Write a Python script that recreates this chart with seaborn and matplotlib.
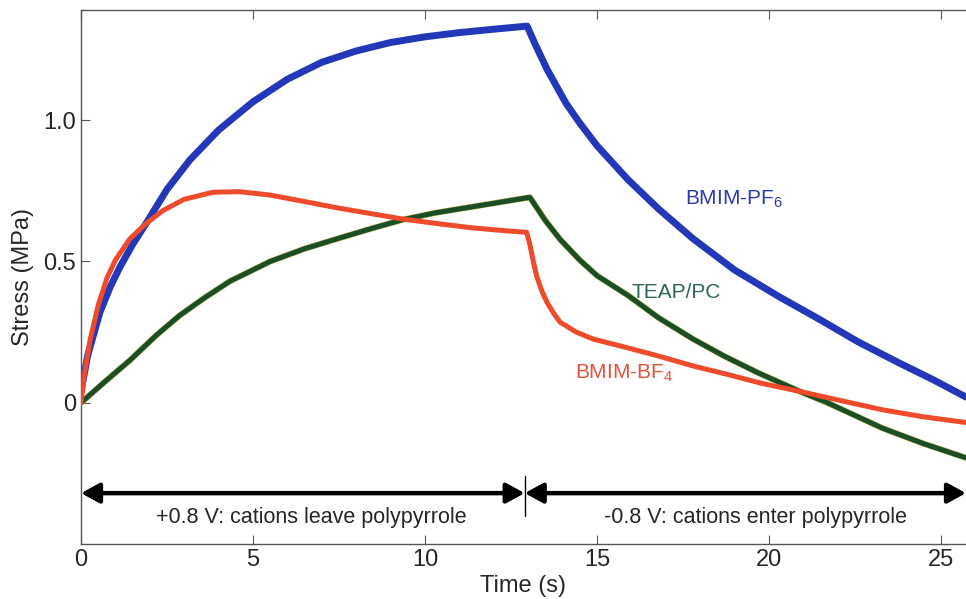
import matplotlib
matplotlib.use("Agg")
import matplotlib.pyplot as plt
import matplotlib.patheffects as pe
import seaborn as sns
import pandas as pd

# ---- data ----
pf6_t = [0, 0.2, 0.55, 0.85, 1.13, 1.5, 1.92, 2.5, 3.17, 4.0, 5.0, 6.0, 7.0, 8.0, 9.0, 10.0,
         11.0, 12.0, 12.97, 13.2, 13.55, 14.1, 14.5, 15.0, 15.9, 16.8, 17.8, 19.0, 20.3,
         21.4, 22.6, 23.8, 24.8, 25.73]
pf6_y = [0.04, 0.17, 0.32, 0.41, 0.48, 0.56, 0.64, 0.755, 0.86, 0.965, 1.065, 1.145, 1.205,
         1.245, 1.275, 1.295, 1.31, 1.322, 1.333, 1.27, 1.18, 1.06, 0.99, 0.91, 0.79, 0.685,
         0.58, 0.47, 0.375, 0.3, 0.215, 0.14, 0.08, 0.02]

bf4_t = [0, 0.1, 0.26, 0.5, 0.75, 1.0, 1.42, 1.9, 2.38, 3.0, 3.84, 4.6, 5.5, 6.5, 7.44, 8.4,
         9.36, 10.3, 11.3, 12.2, 12.96, 13.05, 13.15, 13.25, 13.4, 13.55, 13.75, 13.93, 14.4,
         14.9, 15.87, 16.8, 17.8, 18.8, 19.74, 20.9, 22.0, 23.3, 24.5, 25.73]
bf4_y = [0, 0.1, 0.22, 0.345, 0.44, 0.505, 0.58, 0.635, 0.68, 0.72, 0.745, 0.747, 0.735,
         0.712, 0.69, 0.67, 0.65, 0.635, 0.62, 0.61, 0.603, 0.56, 0.5, 0.447, 0.395, 0.355,
         0.315, 0.285, 0.25, 0.225, 0.195, 0.165, 0.13, 0.1, 0.07, 0.04, 0.01, -0.025,
         -0.05, -0.07]

teap_t = [0, 0.7, 1.42, 2.2, 2.88, 3.6, 4.33, 5.5, 6.5, 7.44, 8.4, 9.36, 10.3, 11.3, 12.2,
          13.05, 13.5, 13.93, 14.5, 15.0, 15.9, 16.8, 17.8, 18.7, 19.7, 20.9, 21.7, 22.5,
          23.3, 24.5, 25.73]
teap_y = [0, 0.075, 0.15, 0.24, 0.31, 0.372, 0.43, 0.5, 0.545, 0.58, 0.615, 0.648, 0.672,
          0.692, 0.71, 0.727, 0.645, 0.578, 0.505, 0.45, 0.38, 0.3, 0.225, 0.165, 0.105,
          0.04, 0.0, -0.045, -0.09, -0.145, -0.195]

series_names = ["BMIM-PF$_6$", "TEAP/PC", "BMIM-BF$_4$"]
x_ticks = [0, 5, 10, 15, 20, 25]
y_ticks = [0, 0.5, 1.0]
y_tick_labels = ["0", "0.5", "1.0"]
switch_time = 12.9
phase_labels = ["+0.8 V: cations leave polypyrrole", "-0.8 V: cations enter polypyrrole"]

# ---- style ----
sns.set_style("white")
plt.rcParams["font.family"] = ["Liberation Sans", "DejaVu Sans"]
plt.rcParams["mathtext.fontset"] = "custom"
plt.rcParams["mathtext.rm"] = "Liberation Sans"
plt.rcParams["mathtext.it"] = "Liberation Sans:italic"
plt.rcParams["mathtext.default"] = "regular"

fig = plt.figure(figsize=(9.66, 5.99), dpi=100)
ax = fig.add_axes([81 / 966, 1 - 544 / 599, 1 - 81 / 966, (544 - 10) / 599])

df_pf6 = pd.DataFrame({"t": pf6_t, "s": pf6_y})
df_bf4 = pd.DataFrame({"t": bf4_t, "s": bf4_y})
df_teap = pd.DataFrame({"t": teap_t, "s": teap_y})

sns.lineplot(data=df_teap, x="t", y="s", ax=ax, color="#1b4d26", linewidth=3.6,
             path_effects=[pe.Stroke(linewidth=4.4, foreground="#b9b95a"), pe.Normal()],
             sort=False, zorder=3)
sns.lineplot(data=df_bf4, x="t", y="s", ax=ax, color="#ee4a2c", linewidth=3.6,
             sort=False, zorder=4)
sns.lineplot(data=df_pf6, x="t", y="s", ax=ax, color="#2238b8", linewidth=5.0,
             sort=False, zorder=2)
for ln in ax.lines:
    ln.set_solid_joinstyle("round")
    ln.set_solid_capstyle("round")

xmax = 25.73
ax.set_xlim(0, xmax)
ax.set_ylim(-0.5, 1.39)
ax.set_xticks(x_ticks)
ax.set_yticks(y_ticks)
ax.set_yticklabels(y_tick_labels)
ax.tick_params(direction="in", length=6.5, width=0.8, color="#555555", labelsize=17,
               top=True, bottom=True, left=True, right=False, pad=3.5)
for side in ["left", "bottom", "top"]:
    ax.spines[side].set_color("#555555")
    ax.spines[side].set_linewidth(1.0)
ax.spines["right"].set_visible(False)

ax.set_xlabel("Time (s)", fontsize=17)
ax.set_ylabel("Stress (MPa)", fontsize=17)
ax.xaxis.set_label_coords(0.5, -0.058)
ax.yaxis.set_label_coords(-0.053, 0.5)

# curve labels
ax.text(17.56, 0.72, series_names[0], color="#2a3bb5", fontsize=15, va="center", ha="left")
ax.text(16.0, 0.39, series_names[1], color="#2e6650", fontsize=15, va="center", ha="left")
ax.text(14.36, 0.105, series_names[2], color="#e8503a", fontsize=15, va="center", ha="left")

# phase arrows
arrow_y = -0.32
astyle = "<|-|>,head_length=0.55,head_width=0.3"
ax.annotate("", xy=(0, arrow_y), xytext=(switch_time, arrow_y),
            arrowprops=dict(arrowstyle=astyle, lw=3.2, color="black", shrinkA=0, shrinkB=0,
                            mutation_scale=20), annotation_clip=False)
ax.annotate("", xy=(switch_time, arrow_y), xytext=(xmax, arrow_y),
            arrowprops=dict(arrowstyle=astyle, lw=3.2, color="black", shrinkA=0, shrinkB=0,
                            mutation_scale=20), annotation_clip=False)
ax.plot([switch_time, switch_time], [-0.26, -0.40], color="black", lw=1.0)

ax.text(6.7, -0.405, phase_labels[0], fontsize=15.5, ha="center", va="center")
ax.text(19.62, -0.405, phase_labels[1], fontsize=15.5, ha="center", va="center")

fig.savefig("out.png", dpi=100)
